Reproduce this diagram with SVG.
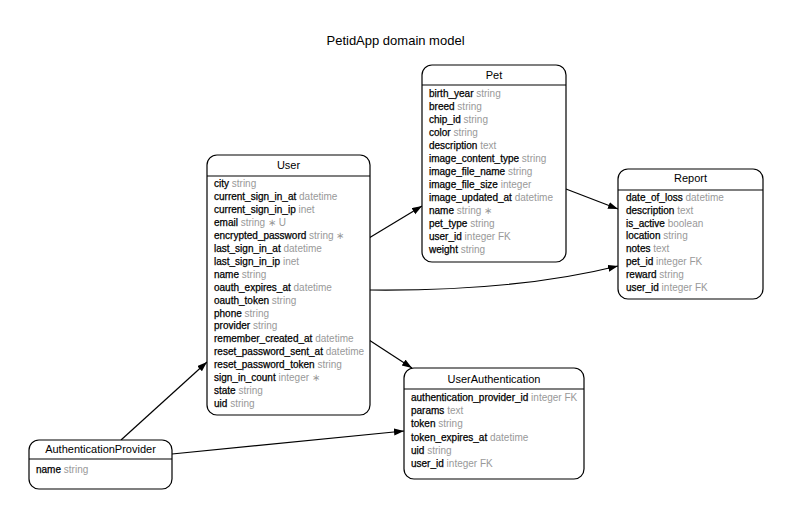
<svg xmlns="http://www.w3.org/2000/svg" width="790" height="510" viewBox="0 0 790 510">
<style>
text{font-family:"Liberation Sans",Arial,Helvetica,sans-serif;}
.title{font-size:13px;fill:#000;text-anchor:middle;}
.hd{font-size:11px;fill:#000;text-anchor:middle;}
.row{font-size:10px;}
.n{fill:#000;stroke:#000;stroke-width:0.25;}
.t{fill:#999;}
.box{fill:#fff;stroke:#000;stroke-width:1.2;}
.sep{stroke:#000;stroke-width:1.2;}
.edge{fill:none;stroke:#000;stroke-width:1.2;marker-end:url(#arr);}
</style>
<defs>
<marker id="arr" markerUnits="userSpaceOnUse" markerWidth="11" markerHeight="8" refX="10" refY="3.5" orient="auto">
<path d="M0,0 L10,3.5 L0,7 z" fill="#000"/>
</marker>
</defs>
<rect width="790" height="510" fill="#fff"/>
<text class="title" x="395.5" y="45">PetidApp domain model</text>

<g id="connectors">
<path class="edge" d="M369,238 L422,206"/>
<path class="edge" d="M566,189 L618,209"/>
<path class="edge" d="M370,290 C470,291 550,283 618,266"/>
<path class="edge" d="M369,340 L412,368"/>
<path class="edge" d="M121,440 L207,362"/>
<path class="edge" d="M172,454 L404,431"/>
</g>

<g id="User">
<rect class="box" x="207" y="155" width="163" height="260" rx="10"/>
<line class="sep" x1="207" y1="176" x2="370" y2="176"/>
<text class="hd" x="288.5" y="169">User</text>
<g class="row">
<text x="214" y="187"><tspan class="n">city</tspan> <tspan class="t">string</tspan></text>
<text x="214" y="199.95"><tspan class="n">current_sign_in_at</tspan> <tspan class="t">datetime</tspan></text>
<text x="214" y="212.9"><tspan class="n">current_sign_in_ip</tspan> <tspan class="t">inet</tspan></text>
<text x="214" y="225.85"><tspan class="n">email</tspan> <tspan class="t">string ∗ U</tspan></text>
<text x="214" y="238.8"><tspan class="n">encrypted_password</tspan> <tspan class="t">string ∗</tspan></text>
<text x="214" y="251.75"><tspan class="n">last_sign_in_at</tspan> <tspan class="t">datetime</tspan></text>
<text x="214" y="264.7"><tspan class="n">last_sign_in_ip</tspan> <tspan class="t">inet</tspan></text>
<text x="214" y="277.65"><tspan class="n">name</tspan> <tspan class="t">string</tspan></text>
<text x="214" y="290.6"><tspan class="n">oauth_expires_at</tspan> <tspan class="t">datetime</tspan></text>
<text x="214" y="303.55"><tspan class="n">oauth_token</tspan> <tspan class="t">string</tspan></text>
<text x="214" y="316.5"><tspan class="n">phone</tspan> <tspan class="t">string</tspan></text>
<text x="214" y="329.45"><tspan class="n">provider</tspan> <tspan class="t">string</tspan></text>
<text x="214" y="342.4"><tspan class="n">remember_created_at</tspan> <tspan class="t">datetime</tspan></text>
<text x="214" y="355.35"><tspan class="n">reset_password_sent_at</tspan> <tspan class="t">datetime</tspan></text>
<text x="214" y="368.3"><tspan class="n">reset_password_token</tspan> <tspan class="t">string</tspan></text>
<text x="214" y="381.25"><tspan class="n">sign_in_count</tspan> <tspan class="t">integer ∗</tspan></text>
<text x="214" y="394.2"><tspan class="n">state</tspan> <tspan class="t">string</tspan></text>
<text x="214" y="407.15"><tspan class="n">uid</tspan> <tspan class="t">string</tspan></text>
</g>
</g>

<g id="Pet">
<rect class="box" x="422" y="65" width="144" height="197" rx="10"/>
<line class="sep" x1="422" y1="85" x2="566" y2="85"/>
<text class="hd" x="494" y="79">Pet</text>
<g class="row">
<text x="429" y="96.8"><tspan class="n">birth_year</tspan> <tspan class="t">string</tspan></text>
<text x="429" y="109.8"><tspan class="n">breed</tspan> <tspan class="t">string</tspan></text>
<text x="429" y="122.8"><tspan class="n">chip_id</tspan> <tspan class="t">string</tspan></text>
<text x="429" y="135.8"><tspan class="n">color</tspan> <tspan class="t">string</tspan></text>
<text x="429" y="148.8"><tspan class="n">description</tspan> <tspan class="t">text</tspan></text>
<text x="429" y="161.8"><tspan class="n">image_content_type</tspan> <tspan class="t">string</tspan></text>
<text x="429" y="174.8"><tspan class="n">image_file_name</tspan> <tspan class="t">string</tspan></text>
<text x="429" y="187.8"><tspan class="n">image_file_size</tspan> <tspan class="t">integer</tspan></text>
<text x="429" y="200.8"><tspan class="n">image_updated_at</tspan> <tspan class="t">datetime</tspan></text>
<text x="429" y="213.8"><tspan class="n">name</tspan> <tspan class="t">string ∗</tspan></text>
<text x="429" y="226.8"><tspan class="n">pet_type</tspan> <tspan class="t">string</tspan></text>
<text x="429" y="239.8"><tspan class="n">user_id</tspan> <tspan class="t">integer FK</tspan></text>
<text x="429" y="252.8"><tspan class="n">weight</tspan> <tspan class="t">string</tspan></text>
</g>
</g>

<g id="Report">
<rect class="box" x="618" y="169" width="145" height="130" rx="10"/>
<line class="sep" x1="618" y1="190" x2="763" y2="190"/>
<text class="hd" x="690.5" y="182.3">Report</text>
<g class="row">
<text x="626" y="200.8"><tspan class="n">date_of_loss</tspan> <tspan class="t">datetime</tspan></text>
<text x="626" y="213.66"><tspan class="n">description</tspan> <tspan class="t">text</tspan></text>
<text x="626" y="226.52"><tspan class="n">is_active</tspan> <tspan class="t">boolean</tspan></text>
<text x="626" y="239.38"><tspan class="n">location</tspan> <tspan class="t">string</tspan></text>
<text x="626" y="252.24"><tspan class="n">notes</tspan> <tspan class="t">text</tspan></text>
<text x="626" y="265.1"><tspan class="n">pet_id</tspan> <tspan class="t">integer FK</tspan></text>
<text x="626" y="277.96"><tspan class="n">reward</tspan> <tspan class="t">string</tspan></text>
<text x="626" y="290.82"><tspan class="n">user_id</tspan> <tspan class="t">integer FK</tspan></text>
</g>
</g>

<g id="UserAuthentication">
<rect class="box" x="404" y="368" width="180" height="111" rx="10"/>
<line class="sep" x1="404" y1="389" x2="584" y2="389"/>
<text class="hd" x="494" y="383">UserAuthentication</text>
<g class="row">
<text x="411" y="401.2"><tspan class="n">authentication_provider_id</tspan> <tspan class="t">integer FK</tspan></text>
<text x="411" y="414.3"><tspan class="n">params</tspan> <tspan class="t">text</tspan></text>
<text x="411" y="427.4"><tspan class="n">token</tspan> <tspan class="t">string</tspan></text>
<text x="411" y="440.5"><tspan class="n">token_expires_at</tspan> <tspan class="t">datetime</tspan></text>
<text x="411" y="453.6"><tspan class="n">uid</tspan> <tspan class="t">string</tspan></text>
<text x="411" y="466.7"><tspan class="n">user_id</tspan> <tspan class="t">integer FK</tspan></text>
</g>
</g>

<g id="AuthenticationProvider">
<rect class="box" x="29" y="440" width="143" height="49" rx="10"/>
<line class="sep" x1="29" y1="459" x2="172" y2="459"/>
<text class="hd" x="100.5" y="453">AuthenticationProvider</text>
<g class="row">
<text x="36" y="472.5"><tspan class="n">name</tspan> <tspan class="t">string</tspan></text>
</g>
</g>
</svg>
